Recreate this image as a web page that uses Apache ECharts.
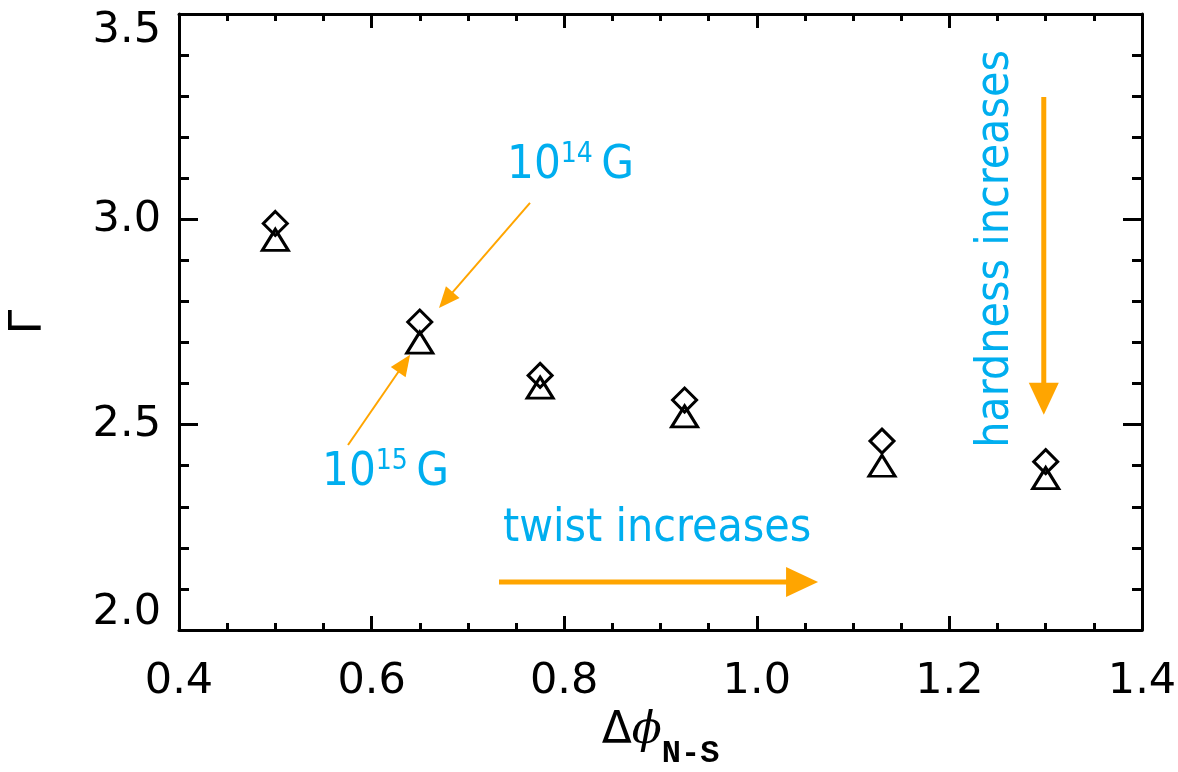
<!DOCTYPE html>
<html>
<head>
<meta charset="utf-8">
<script src="https://cdn.jsdelivr.net/npm/echarts@6/dist/echarts.min.js"></script>
<style>
html,body{margin:0;padding:0;background:#fff;}
#chart{width:1178px;height:772px;}
</style>
</head>
<body>
<div id="chart"></div>
<script>
// ---- data ----
const twistValues = [0.50, 0.65, 0.775, 0.925, 1.13, 1.30];
const gammaDiamond = [2.99, 2.75, 2.62, 2.56, 2.46, 2.41];   // 10^14 G
const gammaTriangle = [2.95, 2.70, 2.59, 2.52, 2.40, 2.37];  // 10^15 G
const xTickLabels = ['0.4', '0.6', '0.8', '1.0', '1.2', '1.4'];
const yTickLabels = ['2.0', '2.5', '3.0', '3.5'];

// annotation anchors in data coordinates
const arrow14 = [[0.7645, 3.040], [0.670, 2.784]];
const arrow15 = [[0.5755, 2.4505], [0.640, 2.670]];
const arrowTwist = [[0.7323, 2.117], [1.0636, 2.117]];
const arrowHard = [[1.298, 3.298], [1.298, 2.524]];
const label14Pos = [0.7406, 3.130];
const label15Pos = [0.5485, 2.382];
const twistLabelPos = [0.7364, 2.246];
const hardLabelPos = [1.2484, 2.928];

const ORANGE = '#FFA500';
const BLUE = '#00AEEF';
const ANNOT_FONT = '"DejaVu Sans Condensed", "DejaVu Sans", sans-serif';

const chart = echarts.init(document.getElementById('chart'), null, {renderer: 'canvas'});

function xAxisCfg(pos) {
  return {
    type: 'value', min: 0.4, max: 1.4, interval: 0.2, position: pos,
    axisLine: {show: true, onZero: false, lineStyle: {color: '#000', width: 3}},
    axisTick: {show: true, inside: true, length: 14, lineStyle: {color: '#000', width: 3}},
    minorTick: {show: true, splitNumber: 4, length: 7, lineStyle: {color: '#000', width: 3}},
    splitLine: {show: false}, minorSplitLine: {show: false},
    axisLabel: pos === 'bottom' ? {
      show: true, margin: 30, fontSize: 43, fontFamily: 'DejaVu Sans', color: '#000',
      formatter: v => xTickLabels.find(t => Math.abs(parseFloat(t) - v) < 1e-6) || ''
    } : {show: false}
  };
}
function yAxisCfg(pos) {
  return {
    type: 'value', min: 2.0, max: 3.5, interval: 0.5, position: pos,
    axisLine: {show: true, onZero: false, lineStyle: {color: '#000', width: 3}},
    axisTick: {show: true, inside: true, length: 19, lineStyle: {color: '#000', width: 3}},
    minorTick: {show: true, splitNumber: 5, length: 10, lineStyle: {color: '#000', width: 3}},
    splitLine: {show: false}, minorSplitLine: {show: false},
    axisLabel: pos === 'left' ? {
      show: true, margin: 18, fontSize: 43, lineHeight: 34, fontFamily: 'DejaVu Sans', color: '#000',
      verticalAlignMinLabel: 'bottom', verticalAlignMaxLabel: 'top',
      formatter: v => yTickLabels.find(t => Math.abs(parseFloat(t) - v) < 1e-6) || ''
    } : {show: false}
  };
}

const xBottom = xAxisCfg('bottom');
xBottom.name = '{d|Δ}{p|ϕ}{s|N-S}';
xBottom.nameLocation = 'middle';
xBottom.nameGap = 80;
xBottom.nameTextStyle = {
  rich: {
    d: {fontSize: 44, fontFamily: 'DejaVu Sans', color: '#000', verticalAlign: 'top'},
    p: {fontSize: 44, fontFamily: 'DejaVu Serif', fontStyle: 'italic', color: '#000', verticalAlign: 'top'},
    s: {fontSize: 32, fontFamily: 'Liberation Mono', fontWeight: 'bold', color: '#000', verticalAlign: 'bottom', padding: [0, 0, -16, 0]}
  }
};
const yLeft = yAxisCfg('left');
yLeft.name = 'Γ';
yLeft.nameLocation = 'middle';
yLeft.nameGap = 127;
yLeft.nameTextStyle = {fontSize: 44, fontFamily: 'DejaVu Sans', color: '#000'};

const makeSeries = (name, yVals, symbol, size) => ({
  name, type: 'scatter', xAxisIndex: 0, yAxisIndex: 0,
  symbol, symbolSize: size,
  data: twistValues.map((x, i) => [x, yVals[i]]),
  itemStyle: {color: 'rgba(0,0,0,0)', borderColor: '#000', borderWidth: 3, opacity: 1},
  emphasis: {disabled: true},
  silent: true
});

chart.setOption({
  animation: false,
  backgroundColor: '#fff',
  grid: {left: 179, top: 14, right: 36, bottom: 142, containLabel: false, outerBoundsMode: 'none'},
  xAxis: [xBottom, xAxisCfg('top')],
  yAxis: [yLeft, yAxisCfg('right')],
  series: [
    makeSeries('10^14 G', gammaDiamond, 'diamond', [24, 24]),
    makeSeries('10^15 G', gammaTriangle, 'triangle', [26, 21])
  ]
});

// ---- annotations placed via the axes' scales ----
const px = p => chart.convertToPixel({gridIndex: 0}, p);

function arrow(seg, lw, headLen, headHalf) {
  const a = px(seg[0]), b = px(seg[1]);
  const dx = b[0] - a[0], dy = b[1] - a[1];
  const L = Math.hypot(dx, dy), ux = dx / L, uy = dy / L;
  const bx = b[0] - ux * headLen, by = b[1] - uy * headLen;
  const nx = -uy, ny = ux;
  return [
    {type: 'line', silent: true, shape: {x1: a[0], y1: a[1], x2: bx + ux * 2, y2: by + uy * 2},
      style: {stroke: ORANGE, lineWidth: lw}},
    {type: 'polygon', silent: true,
      shape: {points: [[b[0], b[1]], [bx + nx * headHalf, by + ny * headHalf], [bx - nx * headHalf, by - ny * headHalf]]},
      style: {fill: ORANGE}}
  ];
}

function gLabel(pos, sup) {
  const p = px(pos);
  return {
    type: 'text', silent: true, x: p[0], y: p[1],
    style: {
      text: '{a|10}{b|' + sup + '}{c|\u2009G}',
      align: 'left', verticalAlign: 'middle',
      rich: {
        a: {fontSize: 47, fontFamily: ANNOT_FONT, fill: BLUE, lineHeight: 50},
        b: {fontSize: 28, fontFamily: ANNOT_FONT, fill: BLUE, verticalAlign: 'top', lineHeight: 31},
        c: {fontSize: 47, fontFamily: ANNOT_FONT, fill: BLUE, lineHeight: 50}
      }
    }
  };
}

const tp = px(twistLabelPos), hp = px(hardLabelPos);
chart.setOption({
  graphic: [
    ...arrow(arrow14, 2, 21, 9),
    ...arrow(arrow15, 2, 21, 9),
    ...arrow(arrowTwist, 5, 32, 15),
    ...arrow(arrowHard, 5, 32, 15),
    gLabel(label14Pos, '14'),
    gLabel(label15Pos, '15'),
    {type: 'text', silent: true, x: tp[0], y: tp[1],
      style: {text: 'twist increases', fontSize: 46, fontFamily: ANNOT_FONT, fill: BLUE, align: 'left', verticalAlign: 'middle'}},
    {type: 'text', silent: true, x: hp[0], y: hp[1], rotation: Math.PI / 2,
      style: {text: 'hardness increases', fontSize: 46, fontFamily: ANNOT_FONT, fill: BLUE, align: 'center', verticalAlign: 'middle'}}
  ]
});
</script>
</body>
</html>
